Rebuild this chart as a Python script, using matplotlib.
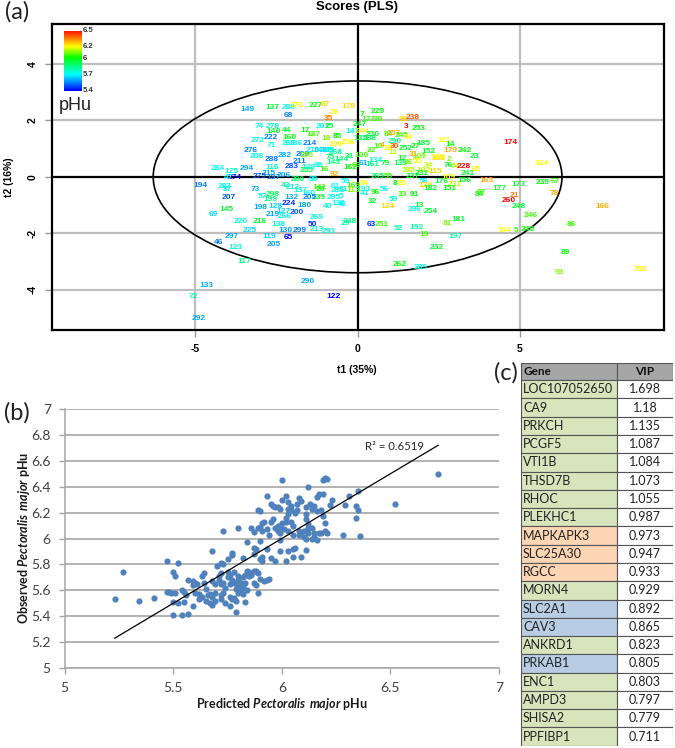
import numpy as np
import matplotlib
matplotlib.use('Agg')
import matplotlib.pyplot as plt
from matplotlib.colors import LinearSegmentedColormap, Normalize
from matplotlib.patches import Ellipse, Rectangle

plt.rcParams['axes.unicode_minus'] = False
plt.rcParams['mathtext.fontset'] = 'custom'
plt.rcParams['mathtext.bfit'] = 'Lato:italic:bold'
plt.rcParams['mathtext.rm'] = 'Lato:bold'

# (a) PLS scores: label, t1, t2, pHu
score_ids = ['149','137','280','170','227','87','26','68','35','178',
             '74','278','140','44','17','187','201','25','18','85',
             '272','222','71','160','286','186','214','276','208','288',
             '282','209','211','283','116','294','284','125','215','275',
             '197','206','274','47','235','148','98','16','92','143',
             '295','247','147','244','106','258','31','100','162','210',
             '205','268','248','13','7','229','172','20','99','238',
             '3','253','230','288','135','84','157','245','94','290',
             '22','10','4','28','30','11','252','27','185','111',
             '14','179','242','23','152','31','109','168','138','2',
             '12','134','161','61','79','139','36','55','76','54',
             '228','65','241','164','174','285','102','34','115','109',
             '163','265','55','237','231','176','156','231','173','177',
             '239','67','94','8','83','58','120','182','151','84',
             '97','96','56','41','33','91','59','32','124','13',
             '296','254','21','260','78','248','246','166','86','63',
             '251','181','81','52','192','19','197','104','5','240',
             '232','89','262','289','93','256','248','29','59','169',
             '193','113','81','46','5','194','283','87','73','207',
             '145','69','57','298','199','198','128','42','212','132',
             '224','180','200','266','219','127','138','220','216','225',
             '297','46','123','119','205','130','299','65','50','269',
             '213','293','40','136','295','61','281','141','20','239',
             '137','160','205','117','290','133','72','122','292','280',
             '88','75','66','144']
score_t1 = [-3.40,-2.62,-2.13,-1.87,-1.30,-1.00,-0.72,-2.14,-0.90,-0.29,
            -3.02,-2.60,-2.60,-2.17,-1.62,-1.36,-1.06,-0.88,-0.97,-0.63,
            -3.06,-2.66,-2.66,-2.10,-2.13,-1.92,-1.46,-3.28,-3.10,-2.63,
            -2.23,-1.70,-1.80,-2.02,-2.63,-3.40,-4.30,-3.87,-2.75,-3.02,
            -2.60,-2.28,-3.77,-3.98,-1.58,-1.50,-1.20,-1.03,-0.72,-0.75,
            -1.56,0.08,-0.17,0.17,-0.69,-0.32,-0.26,0.11,-0.23,-1.37,
            -0.94,-0.69,-1.15,-0.85,0.14,0.63,0.32,0.63,1.40,1.68,
            1.49,1.89,0.48,0.38,0.08,0.94,1.10,1.37,1.56,1.15,
            0.44,0.63,0.75,0.94,1.15,1.10,1.49,1.77,2.02,2.67,
            2.85,2.85,3.31,3.58,2.17,1.71,1.92,2.48,2.45,2.82,
            1.37,0.54,0.45,0.17,0.85,1.31,1.56,1.83,2.79,3.00,
            3.28,3.65,3.40,5.65,4.72,1.56,2.02,2.17,2.38,2.79,
            3.96,0.63,0.94,1.68,1.98,2.57,3.28,3.00,4.94,4.35,
            5.71,6.10,0.20,1.15,1.37,2.04,2.10,2.23,2.82,3.74,
            3.80,0.54,0.82,0.23,1.37,1.74,1.09,0.45,0.91,1.89,
            1.77,2.26,4.82,4.66,6.05,4.97,5.34,7.55,6.57,0.42,
            0.75,3.12,2.75,1.25,1.80,2.05,3.00,4.51,4.88,5.25,
            2.45,6.38,1.31,1.95,6.20,8.72,-0.23,-0.38,-0.38,-0.14,
            0.17,-0.14,-0.44,-0.48,-0.50,-4.85,-4.10,-4.02,-3.15,-3.98,
            -4.05,-4.44,-2.94,-2.60,-2.69,-3.00,-2.54,-2.23,-1.98,-2.02,
            -2.11,-1.62,-1.86,-2.23,-2.60,-2.29,-2.45,-3.58,-3.00,-3.31,
            -3.89,-4.29,-3.77,-2.72,-2.57,-2.23,-1.77,-2.14,-1.40,-1.25,
            -1.25,-0.88,-0.91,-0.60,-0.75,-0.69,-0.60,-1.18,-1.15,-1.20,
            -1.77,-1.50,-1.46,-3.49,-1.52,-4.66,-5.06,-0.75,-4.90,-1.83,
            -1.37,-0.85,-0.05,-0.50]
score_t2 = [2.40,2.47,2.47,2.53,2.53,2.55,2.27,2.19,2.08,2.48,
            1.79,1.77,1.60,1.66,1.66,1.50,1.77,1.80,1.36,1.44,
            1.30,1.38,1.12,1.38,1.18,1.18,1.18,0.94,0.73,0.63,
            0.77,0.80,0.55,0.35,0.34,0.28,0.28,0.18,0.13,0.02,
            -0.04,0.05,-0.03,-0.03,0.24,0.32,0.42,0.27,0.07,0.52,
            0.77,1.87,1.62,1.62,1.16,1.23,0.73,0.77,0.34,0.95,
            0.95,0.88,0.95,0.95,2.22,2.33,2.05,2.05,2.04,2.11,
            1.77,1.72,1.50,1.36,1.36,1.50,1.54,1.47,1.38,1.26,
            0.95,1.09,1.12,1.01,1.09,0.87,1.02,1.09,1.19,1.30,
            1.16,0.95,0.92,0.73,0.91,0.80,0.73,0.66,0.70,0.62,
            0.66,0.59,0.45,0.49,0.49,0.49,0.52,0.56,0.41,0.38,
            0.38,0.27,0.13,0.49,1.23,0.24,0.24,0.41,0.20,-0.01,
            -0.12,0.02,0.02,0.00,0.13,-0.15,-0.12,-0.26,-0.26,-0.40,
            -0.20,-0.18,-0.23,-0.23,-0.23,-0.18,-0.30,-0.40,-0.40,-0.61,
            -0.54,-0.54,-0.44,-0.58,-0.61,-0.61,-0.79,-0.86,-1.04,-1.00,
            -1.15,-1.22,-0.65,-0.83,-0.58,-1.04,-1.36,-1.04,-1.68,-1.68,
            -1.68,-1.50,-1.64,-1.82,-1.78,-2.03,-2.10,-1.89,-1.89,-1.85,
            -2.49,-2.67,-3.10,-3.20,-3.38,-3.27,-1.60,-1.65,-0.18,-0.30,
            -0.44,-0.47,-0.44,-0.97,-0.70,-0.29,-0.33,-0.44,-0.44,-0.72,
            -1.15,-1.32,-0.68,-0.61,-0.79,-1.07,-1.04,-0.29,-0.37,-0.72,
            -0.94,-1.00,-1.25,-1.39,-1.32,-1.22,-1.68,-1.57,-1.60,-1.89,
            -2.10,-2.32,-2.49,-2.10,-2.39,-1.89,-1.89,-2.14,-1.68,-1.43,
            -1.85,-1.93,-1.04,-0.94,-0.72,-0.33,-0.47,-0.36,-0.44,-0.72,
            -0.50,-0.58,-0.72,-2.99,-3.70,-3.84,-4.23,-4.23,-5.01,-0.08,
            -0.08,0.68,0.40,0.60]
score_ph = [5.60,5.95,5.72,6.20,6.00,6.25,6.20,5.55,6.35,6.25,
            5.75,5.77,5.95,5.95,6.00,6.05,5.75,5.95,6.10,6.00,
            5.72,5.55,5.75,6.00,5.75,5.72,5.55,5.55,5.72,5.55,
            5.60,5.55,5.55,5.50,5.75,5.60,5.70,5.75,5.60,5.50,
            5.55,5.60,5.40,5.70,5.95,5.75,5.72,6.05,6.30,5.85,
            6.10,5.95,5.75,6.20,6.20,6.20,5.90,6.05,6.00,5.70,
            5.70,5.80,5.65,5.75,6.00,6.00,6.05,6.05,6.25,6.40,
            6.50,6.00,5.95,5.90,5.90,6.05,6.30,6.05,6.20,5.85,
            6.05,6.05,6.30,6.20,6.40,6.15,5.95,6.00,5.95,6.20,
            6.00,6.30,6.00,5.95,5.95,6.30,6.10,6.25,6.20,6.10,
            5.95,5.75,5.85,5.60,5.95,5.90,6.10,6.20,5.95,6.15,
            6.50,6.20,5.95,6.20,6.50,6.15,6.15,6.15,6.25,6.20,
            6.30,5.90,6.05,5.95,5.95,5.95,5.95,6.15,5.95,5.95,
            6.00,6.05,6.20,6.00,6.20,5.70,6.25,5.95,6.00,6.00,
            6.05,6.00,5.70,5.75,6.05,6.00,5.75,5.95,6.25,5.95,
            5.75,5.95,6.35,6.50,6.30,5.95,6.05,6.30,6.05,5.45,
            6.05,5.95,6.10,5.80,5.80,6.05,5.80,6.20,6.05,6.00,
            5.95,6.00,6.00,5.75,6.10,6.20,5.85,5.80,5.70,6.05,
            5.75,6.10,5.75,5.72,5.75,5.55,5.72,5.75,5.60,5.50,
            5.95,5.65,5.75,5.90,5.85,5.60,5.65,5.80,5.75,5.60,
            5.45,5.60,5.50,5.75,5.60,5.65,5.75,5.75,5.95,5.65,
            5.60,5.55,5.75,5.65,5.60,5.60,5.55,5.40,5.45,5.75,
            5.75,5.75,5.75,5.70,5.72,5.70,5.72,6.05,6.00,5.95,
            5.75,5.70,5.55,5.85,5.60,5.60,5.80,5.40,5.60,5.90,
            5.70,5.90,6.05,5.85]

legend_ticks = ['5.4', '5.7', '6', '6.2', '6.5']
legend_vals = [5.4, 5.7, 6.0, 6.2, 6.5]

# (b) predicted vs observed
pred = [5.23,5.27,5.34,5.41,5.47,5.47,5.48,5.49,5.50,5.51,5.52,5.51,5.50,5.52,5.50,5.54,5.57,5.54,5.55,5.56,
        5.55,5.59,5.57,5.59,5.59,5.60,5.61,5.60,5.62,5.62,5.63,5.63,5.64,5.64,5.65,5.66,5.67,5.65,5.67,5.68,
        5.68,5.69,5.69,5.68,5.69,5.68,5.70,5.72,5.73,5.71,5.72,5.71,5.72,5.73,5.72,5.72,5.74,5.73,5.74,5.75,
        5.75,5.77,5.77,5.73,5.80,5.75,5.76,5.76,5.77,5.78,5.78,5.76,5.77,5.76,5.78,5.79,5.79,5.80,5.79,5.80,
        5.80,5.80,5.81,5.81,5.82,5.82,5.83,5.82,5.83,5.84,5.83,5.84,5.85,5.85,5.86,5.87,5.88,5.89,5.87,5.88,
        5.89,5.90,5.92,5.93,5.94,5.82,5.84,5.87,5.87,5.88,5.90,5.91,5.90,5.91,5.93,5.95,5.97,5.99,6.02,6.03,
        6.05,6.06,6.05,6.09,6.11,5.99,5.86,5.87,5.89,5.90,5.91,5.91,5.92,5.93,5.94,5.95,5.96,5.97,5.98,5.98,
        5.99,5.99,6.00,6.01,6.02,6.02,6.03,6.03,6.04,6.05,6.05,6.04,6.06,6.07,6.08,6.08,6.09,6.10,6.10,6.11,
        6.12,6.12,6.12,6.11,6.11,6.11,6.13,6.14,6.15,6.16,6.14,6.14,6.15,6.15,6.16,6.17,6.18,6.18,6.19,6.20,
        6.20,6.21,6.22,6.23,5.89,5.90,5.93,5.95,5.96,5.97,5.98,5.99,6.00,6.02,6.03,6.03,6.04,6.07,6.08,6.09,
        6.12,6.00,6.16,6.17,6.19,6.19,6.20,6.21,6.28,6.29,6.31,6.34,6.35,6.34,6.36,6.35,6.52,6.72]
obs = [5.53,5.74,5.52,5.54,5.83,5.59,5.59,5.58,5.74,5.71,5.81,5.58,5.51,5.50,5.41,5.41,5.42,5.60,5.59,5.56,
       5.51,5.48,5.68,5.67,5.64,5.66,5.65,5.58,5.57,5.53,5.55,5.71,5.73,5.66,5.61,5.56,5.57,5.52,5.50,5.49,
       5.55,5.58,5.52,5.67,5.65,5.90,5.79,5.81,5.80,5.71,5.73,5.68,5.65,5.58,5.56,5.53,5.50,5.66,5.62,5.74,
       5.84,5.87,5.89,6.06,6.08,5.70,5.65,5.72,5.68,5.66,5.74,5.55,5.53,5.48,5.54,5.52,5.43,5.58,5.61,5.64,
       5.68,5.71,5.66,5.60,5.63,5.57,5.51,5.70,5.66,5.60,5.72,5.75,5.71,5.74,5.72,5.75,5.75,5.73,5.66,5.64,
       5.58,5.69,5.67,5.68,5.69,5.85,5.97,5.88,5.93,5.92,5.98,5.86,5.84,5.83,5.92,5.85,5.83,5.90,5.83,5.90,
       5.92,5.93,5.86,5.86,5.91,5.99,6.08,6.05,6.08,6.09,6.06,6.12,6.13,6.07,6.03,6.13,6.15,6.08,6.06,6.10,
       6.04,6.09,6.12,6.07,6.13,6.16,6.06,6.19,6.13,6.03,6.10,6.22,6.20,6.22,6.03,6.06,6.05,6.01,6.06,6.00,
       6.04,6.08,6.11,6.15,6.19,6.24,6.27,6.23,6.25,6.21,6.00,6.08,6.04,6.01,5.99,6.04,6.04,6.22,6.17,6.12,
       6.06,6.04,6.26,6.30,6.22,6.21,6.33,6.27,6.25,6.24,6.24,6.23,6.30,6.33,6.28,6.23,6.25,6.27,6.31,6.29,
       6.40,6.45,6.32,6.34,6.34,6.45,6.47,6.46,6.03,6.26,6.33,6.25,6.22,6.16,6.02,6.37,6.27,6.50]
fit_x = [5.23, 6.72]
fit_y = [5.23, 6.72]

# (c) VIP table
genes = ['LOC107052650','CA9','PRKCH','PCGF5','VTI1B','THSD7B','RHOC','PLEKHC1','MAPKAPK3','SLC25A30',
         'RGCC','MORN4','SLC2A1','CAV3','ANKRD1','PRKAB1','ENC1','AMPD3','SHISA2','PPFIBP1']
vip = ['1.698','1.18','1.135','1.087','1.084','1.073','1.055','0.987','0.973','0.947',
       '0.933','0.929','0.892','0.865','0.823','0.805','0.803','0.797','0.779','0.711']
gene_colors = ['#d8e4bc']*8 + ['#fcd5b4']*3 + ['#d8e4bc'] + ['#b8cce4']*2 + ['#d8e4bc'] + ['#b8cce4'] + ['#d8e4bc']*4

W, H = 675, 748
def box(l, t, r, b):
    return [l/W, 1-b/H, (r-l)/W, (b-t)/H]

fig = plt.figure(figsize=(6.75, 7.48), dpi=100)

# panel a
cmap = LinearSegmentedColormap.from_list('phu', [(0, '#0000ff'), (0.27, '#00ffff'), (0.55, '#00ff00'),
                                                 (0.73, '#ffff00'), (1, '#ff0000')])
norm = Normalize(5.4, 6.5)
ax = fig.add_axes(box(51.5, 24, 664, 330))
ax.set_xlim(-9.42, 9.43)
ax.set_ylim(-5.43, 5.42)
for v in [-5, 5]:
    ax.axvline(v, color='#bebebe', lw=1.6, zorder=1)
for v in [-4, -2, 2, 4]:
    ax.axhline(v, color='#bebebe', lw=1.6, zorder=1)
ax.axvline(0, color='black', lw=1.6, zorder=2)
ax.axhline(0, color='black', lw=1.6, zorder=2)
ax.add_patch(Ellipse((0, 0), 2*6.29, 2*3.4, fill=False, ec='black', lw=1.2, zorder=2))
for s, x, y, p in zip(score_ids, score_t1, score_t2, score_ph):
    ax.text(x, y, s, color=cmap(norm(p)), fontsize=6, fontweight='bold', family='Liberation Sans',
            ha='center', va='center', zorder=3)
for s in ax.spines.values():
    s.set_linewidth(1.6)
ax.set_xticks([-5, 0, 5])
ax.set_yticks([-4, -2, 0, 2, 4])
ax.tick_params(axis='both', length=5, width=1, color='#999999', pad=5)
for t in ax.get_xticklabels():
    t.set(fontsize=7.5, fontweight='bold', family='Liberation Sans')
for t in ax.get_yticklabels():
    t.set(fontsize=7.5, fontweight='bold', family='Liberation Sans', rotation=90, va='center')
fig.text(357/W, 1-7/H, 'Scores (PLS)', ha='center', va='center', fontsize=9.5, fontweight='bold', family='Liberation Sans')
fig.text(357/W, 1-370/H, 't1 (35%)', ha='center', va='center', fontsize=7.5, fontweight='bold', family='Liberation Sans')
fig.text(9/W, 1-177/H, 't2 (16%)', ha='center', va='center', rotation=90, fontsize=7.5, fontweight='bold', family='Liberation Sans')

# colour key
cax = fig.add_axes(box(64, 30.5, 82, 91))
cax.imshow(np.linspace(6.5, 5.4, 256).reshape(-1, 1), aspect='auto', cmap=cmap, norm=norm,
           extent=[0, 1, 5.4, 6.5])
cax.set_xticks([])
cax.set_yticks([])
for s in cax.spines.values():
    s.set_visible(False)
for s, v in zip(legend_ticks, legend_vals):
    cax.text(1.02, v, s, fontsize=5.5, ha='left', va='center', color='#333333', family='Liberation Sans',
             clip_on=False, fontweight='bold')
fig.text(75/W, 1-106/H, 'pHu', ha='center', va='center', fontsize=13, color='#222222', family='Liberation Sans')

# panel b
bx = fig.add_axes(box(64.7, 409, 499, 668))
bx.set_xlim(5, 7)
bx.set_ylim(5, 7)
bx.set_axisbelow(True)
bx.grid(axis='y', color='#a6a6a6', lw=1.2)
bx.scatter(pred, obs, s=20, color='#4f81bd', linewidths=0, zorder=3)
bx.plot(fit_x, fit_y, color='black', lw=0.9, zorder=4)
bx.text(6.52, 6.71, 'R² = 0.6519', fontsize=8.2, ha='center', va='center', color='#262626', family='Lato')
for k in ['top', 'right']:
    bx.spines[k].set_visible(False)
for k in ['left', 'bottom']:
    bx.spines[k].set_color('#a6a6a6')
    bx.spines[k].set_linewidth(1.1)
bx.set_xticks([5, 5.5, 6, 6.5, 7])
bx.set_xticklabels(['5', '5.5', '6', '6.5', '7'])
bx.set_yticks([5, 5.2, 5.4, 5.6, 5.8, 6, 6.2, 6.4, 6.6, 6.8, 7])
bx.set_yticklabels(['5', '5.2', '5.4', '5.6', '5.8', '6', '6.2', '6.4', '6.6', '6.8', '7'])
bx.tick_params(axis='both', length=4, width=1, color='#a6a6a6', labelcolor='#404040', labelsize=10, pad=6)
for t in bx.get_xticklabels() + bx.get_yticklabels():
    t.set_family('Lato')
fig.text(282/W, 1-704/H, r'Predicted $\mathbfit{Pectoralis\ major}$ pHu', ha='center', va='center',
         fontsize=9, fontweight='bold', family='Lato', color='#1a1a1a')
fig.text(24/W, 1-538/H, r'Observed $\mathbfit{Pectoralis\ major}$ pHu', ha='center', va='center', rotation=90,
         fontsize=9, fontweight='bold', family='Lato', color='#1a1a1a')

# panel c, one row per unit
tx = fig.add_axes(box(521, 362.5, 673, 745.7))
n = len(genes)
tx.set_xlim(0, 152)
tx.set_ylim(n, -0.97)
tx.axis('off')
edge = '#555555'
tx.add_patch(Rectangle((0, -0.97), 96, 0.97, fc='#a6a6a6', ec=edge, lw=0.8))
tx.add_patch(Rectangle((96, -0.97), 56, 0.97, fc='#a6a6a6', ec=edge, lw=0.8))
tx.text(2, -0.48, 'Gene', fontsize=8.5, fontweight='bold', va='center', family='Lato', color='#111111')
tx.text(124, -0.48, 'VIP', fontsize=8.5, fontweight='bold', va='center', ha='center', family='Lato', color='#111111')
for i, (g, v, c) in enumerate(zip(genes, vip, gene_colors)):
    tx.add_patch(Rectangle((0, i), 96, 1, fc=c, ec=edge, lw=0.8))
    tx.add_patch(Rectangle((96, i), 56, 1, fc='white', ec=edge, lw=0.8))
    tx.text(2, i+0.5, g, fontsize=9, va='center', family='Lato', color='#222222')
    tx.text(124, i+0.5, v, fontsize=9, va='center', ha='center', family='Lato', color='#222222')

# panel letters
for s, px, py in [('(a)', 17, 12), ('(b)', 17, 413), ('(c)', 506, 373)]:
    fig.text(px/W, 1-py/H, s, fontsize=17, ha='center', va='center', family='Lato', color='#222222')

fig.savefig('out.png', dpi=100)
